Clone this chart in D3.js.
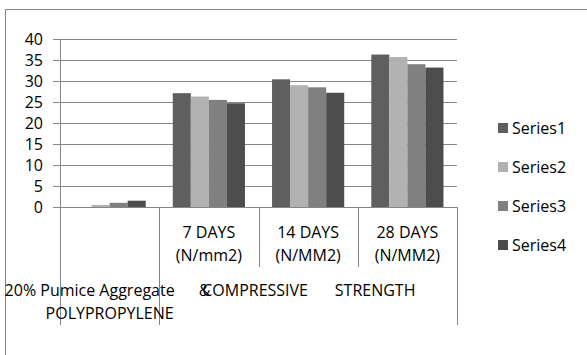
<!DOCTYPE html>
<html>
<head>
<meta charset="utf-8">
<script src="https://cdn.jsdelivr.net/npm/d3@7"></script>
<style>
  html, body { margin: 0; padding: 0; background: #fff; }
  svg { display: block; font-family: 'Open Sans', sans-serif; }
</style>
</head>
<body>
<div id="chart"></div>
<script>
// Compressive strength bar chart, grouped by curing age

const categories = ['', '7 DAYS|(N/mm2)', '14 DAYS|(N/MM2)', '28 DAYS|(N/MM2)'];
const groupLabels = [
    { label: ['20% Pumice Aggregate', '&', 'POLYPROPYLENE'], from: 0, to: 0 },
    { label: ['COMPRESSIVE', 'STRENGTH'], from: 1, to: 3 }
];
const seriesNames = ['Series1', 'Series2', 'Series3', 'Series4'];
const series1 = [0, 27.1, 30.4, 36.3];
const series2 = [0.5, 26.3, 29.0, 35.7];
const series3 = [1.0, 25.5, 28.5, 34.0];
const series4 = [1.5, 24.7, 27.2, 33.2];
const yTicks = [0, 5, 10, 15, 20, 25, 30, 35, 40];

const values = [series1, series2, series3, series4];
const colors = ['#5f5f5f', '#b2b2b2', '#808080', '#4d4d4d'];

const W = 587, H = 355;
const plot = { left: 60, right: 457, top: 39, bottom: 207 };
const gridColor = '#868686';
const fontSize = '16px';

const svg = d3.select('#chart').append('svg')
    .attr('width', W).attr('height', H);

// outer chart border (runs off the right/bottom edge like the source)
svg.append('rect')
    .attr('x', 5.5).attr('y', 9.5)
    .attr('width', 640).attr('height', 400)
    .attr('fill', 'none').attr('stroke', gridColor);

const x = d3.scaleBand().domain(d3.range(categories.length))
    .range([plot.left, plot.right]).padding(0);
const bw = x.bandwidth();
const gap = bw * 0.75 / 5.5;
const xs = d3.scaleBand().domain(seriesNames).range([gap, bw - gap]).padding(0);
const y = d3.scaleLinear().domain([0, 40]).range([plot.bottom, plot.top]);

// gridlines + y ticks
svg.append('g').selectAll('line').data(yTicks).enter().append('line')
    .attr('x1', plot.left - 7).attr('x2', plot.right)
    .attr('y1', d => Math.round(y(d)) + 0.5).attr('y2', d => Math.round(y(d)) + 0.5)
    .attr('stroke', gridColor);

svg.append('g').selectAll('text').data(yTicks).enter().append('text')
    .attr('x', 43).attr('y', d => y(d))
    .attr('dy', '0.36em').attr('text-anchor', 'end')
    .attr('font-size', fontSize).attr('fill', '#000')
    .text(d => d);

// y axis line
svg.append('line')
    .attr('x1', plot.left + 0.5).attr('x2', plot.left + 0.5)
    .attr('y1', plot.top).attr('y2', 325)
    .attr('stroke', gridColor);

// bars
seriesNames.forEach((s, si) => {
    svg.append('g').selectAll('rect').data(values[si]).enter().append('rect')
        .attr('x', (d, i) => x(i) + xs(s))
        .attr('width', xs.bandwidth())
        .attr('y', d => y(d))
        .attr('height', d => y(0) - y(d))
        .attr('fill', colors[si]);
});

// category separators
const seps = d3.range(1, categories.length + 1);
svg.append('g').selectAll('line').data(seps).enter().append('line')
    .attr('x1', i => Math.round(i < categories.length ? x(i) : plot.right) + 0.5)
    .attr('x2', i => Math.round(i < categories.length ? x(i) : plot.right) + 0.5)
    .attr('y1', plot.bottom)
    .attr('y2', i => (i === 1 || i === categories.length) ? 325 : 267)
    .attr('stroke', gridColor);

// category labels (two lines)
const catG = svg.append('g').attr('font-size', fontSize).attr('fill', '#000')
    .attr('text-anchor', 'middle');
categories.forEach((c, i) => {
    if (!c) return;
    const parts = c.split('|');
    parts.forEach((p, j) => {
        catG.append('text')
            .attr('x', x(i) + bw / 2)
            .attr('y', 232 + j * 23)
            .attr('dy', '0.36em')
            .text(p);
    });
});

// group labels
const g0 = groupLabels[0];
const c0 = (x(g0.from) + x(g0.to) + bw) / 2;
catG.append('text').attr('x', c0 - 20).attr('y', 290).attr('dy', '0.36em').text(g0.label[0]);
catG.append('text').attr('x', c0 + 95).attr('y', 290).attr('dy', '0.36em').text(g0.label[1]);
catG.append('text').attr('x', c0).attr('y', 313).attr('dy', '0.36em').text(g0.label[2]);

const g1 = groupLabels[1];
const c1 = (x(g1.from) + x(g1.to) + bw) / 2;
catG.append('text').attr('x', c1 - 53).attr('y', 290).attr('dy', '0.36em').text(g1.label[0]);
catG.append('text').attr('x', c1 + 67).attr('y', 290).attr('dy', '0.36em').text(g1.label[1]);

// legend
const leg = svg.append('g').selectAll('g').data(seriesNames).enter().append('g')
    .attr('transform', (d, i) => `translate(498,${128 + i * 39})`);
leg.append('rect').attr('x', 0).attr('y', -5).attr('width', 10).attr('height', 10)
    .attr('fill', (d, i) => colors[i]);
leg.append('text').attr('x', 14).attr('dy', '0.36em')
    .attr('font-size', fontSize).text(d => d);
</script>
</body>
</html>
